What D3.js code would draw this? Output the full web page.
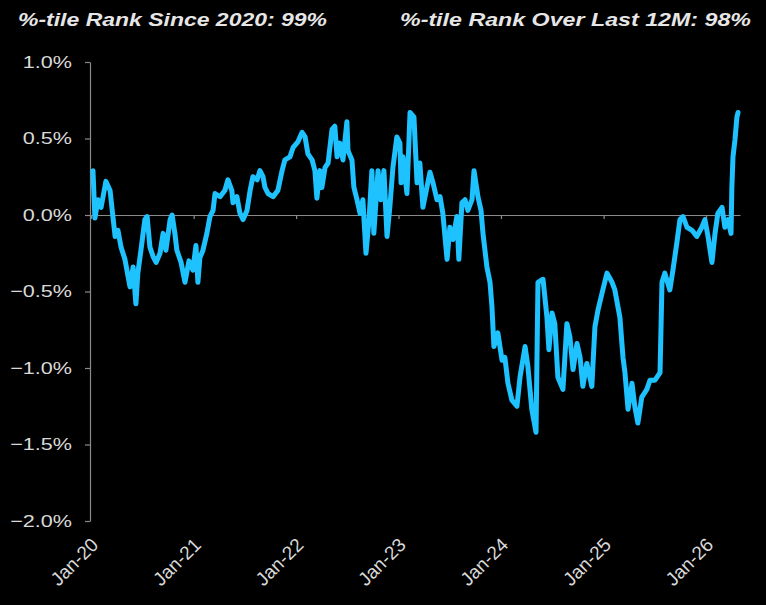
<!DOCTYPE html>
<html>
<head>
<meta charset="utf-8">
<script src="https://cdn.jsdelivr.net/npm/d3@7"></script>
<style>
  html, body { margin: 0; padding: 0; background: #000; }
  svg { display: block; }
</style>
</head>
<body>
<div id="chart"></div>
<script>
// ---- data ----
const titleLeft = "%-tile Rank Since 2020: 99%";
const titleRight = "%-tile Rank Over Last 12M: 98%";

const dates = [
  "2020-01-08","2020-01-15","2020-01-26","2020-02-06","2020-02-23","2020-03-09","2020-03-19","2020-03-27",
  "2020-04-06","2020-04-17","2020-05-01","2020-05-12","2020-05-19","2020-05-30","2020-06-09","2020-06-16",
  "2020-06-27","2020-07-11","2020-07-19","2020-07-29","2020-08-09","2020-08-20","2020-09-03","2020-09-14",
  "2020-09-24","2020-10-09","2020-10-16","2020-10-26","2020-11-02","2020-11-17","2020-12-01","2020-12-15",
  "2020-12-29","2021-01-09","2021-01-16","2021-01-23","2021-02-03","2021-02-17","2021-02-28","2021-03-11",
  "2021-03-18","2021-04-05","2021-04-22","2021-05-03","2021-05-17","2021-05-21","2021-06-04","2021-06-15",
  "2021-06-26","2021-07-10","2021-07-21","2021-07-31","2021-08-15","2021-08-25","2021-09-05","2021-09-12",
  "2021-09-23","2021-10-11","2021-10-28","2021-11-12","2021-11-22","2021-12-10","2021-12-21","2022-01-08",
  "2022-01-22","2022-02-02","2022-02-12","2022-02-27","2022-03-09","2022-03-16","2022-03-27","2022-04-03",
  "2022-04-14","2022-04-25","2022-05-09","2022-05-19","2022-05-27","2022-06-06","2022-06-17","2022-07-01",
  "2022-07-05","2022-07-19","2022-07-26","2022-08-06","2022-08-17","2022-08-27","2022-09-07","2022-09-18",
  "2022-09-28","2022-10-05","2022-10-20","2022-10-30","2022-11-10","2022-11-21","2022-12-01","2022-12-12",
  "2022-12-26","2023-01-06","2023-01-10","2023-01-17","2023-01-31","2023-02-11","2023-02-25","2023-03-08",
  "2023-03-18","2023-03-29","2023-04-12","2023-04-23","2023-05-04","2023-05-18","2023-05-29","2023-06-08",
  "2023-06-23","2023-07-03","2023-07-14","2023-07-28","2023-08-04","2023-08-15","2023-08-26","2023-09-05",
  "2023-09-20","2023-09-27","2023-10-11","2023-10-22","2023-10-29","2023-11-12","2023-11-23","2023-11-30",
  "2023-12-07","2023-12-21","2024-01-05","2024-01-15","2024-01-26","2024-02-09","2024-02-27","2024-03-09",
  "2024-03-27","2024-04-06","2024-04-20","2024-05-05","2024-05-12","2024-05-30","2024-06-13","2024-06-20",
  "2024-07-01","2024-07-11","2024-07-22","2024-08-09","2024-08-23","2024-09-03","2024-09-14","2024-09-28",
  "2024-10-09","2024-10-19","2024-11-02","2024-11-20","2024-12-01","2024-12-12","2024-12-29","2025-01-13",
  "2025-01-31","2025-02-10","2025-02-28","2025-03-11","2025-03-18","2025-03-29","2025-04-12","2025-04-22",
  "2025-05-03","2025-05-17","2025-06-04","2025-06-15","2025-07-03","2025-07-21","2025-07-28","2025-08-07",
  "2025-08-25","2025-09-05","2025-09-19","2025-09-30","2025-10-11","2025-10-25","2025-11-12","2025-11-29",
  "2025-12-17","2025-12-28","2026-01-08","2026-01-22","2026-02-02","2026-02-12","2026-02-27","2026-03-09",
  "2026-03-20","2026-03-31","2026-04-03","2026-04-07","2026-04-14","2026-04-21","2026-04-25"
];

const values = [
  0.29,-0.02,0.10,0.05,0.22,0.16,-0.01,-0.14,
  -0.10,-0.21,-0.29,-0.40,-0.47,-0.34,-0.58,-0.38,
  -0.23,-0.03,-0.01,-0.21,-0.27,-0.31,-0.25,-0.12,
  -0.23,-0.03,0.00,-0.12,-0.23,-0.31,-0.44,-0.30,
  -0.36,-0.20,-0.44,-0.28,-0.23,-0.12,-0.01,0.03,
  0.14,0.12,0.16,0.23,0.16,0.08,0.12,0.01,
  -0.03,0.03,0.16,0.25,0.23,0.29,0.25,0.18,
  0.14,0.12,0.16,0.29,0.36,0.38,0.44,0.48,
  0.54,0.51,0.40,0.36,0.29,0.11,0.29,0.18,
  0.31,0.34,0.56,0.58,0.38,0.47,0.36,0.61,
  0.42,0.36,0.18,0.10,0.01,0.10,-0.25,-0.03,
  0.29,-0.12,0.29,0.10,0.29,-0.14,0.05,0.31,
  0.51,0.47,0.21,0.38,0.14,0.67,0.64,0.21,
  0.34,0.05,0.18,0.28,0.21,0.10,0.12,0.01,
  -0.29,-0.08,-0.16,-0.01,-0.29,0.08,0.10,0.03,
  0.10,0.29,0.12,0.03,-0.12,-0.34,-0.44,-0.60,
  -0.86,-0.77,-0.95,-0.93,-1.10,-1.21,-1.25,-1.06,
  -0.86,-0.99,-1.27,-1.42,-0.44,-0.42,-0.67,-0.88,
  -0.64,-0.71,-1.06,-1.14,-0.71,-0.80,-1.01,-0.84,
  -0.93,-1.12,-0.97,-1.12,-0.73,-0.62,-0.49,-0.38,
  -0.44,-0.49,-0.67,-0.93,-1.03,-1.27,-1.10,-1.25,
  -1.36,-1.19,-1.14,-1.08,-1.08,-1.03,-0.44,-0.38,
  -0.49,-0.36,-0.18,-0.03,-0.01,-0.08,-0.10,-0.14,
  -0.08,-0.03,-0.14,-0.31,-0.12,0.01,0.05,-0.08,
  -0.03,-0.12,0.18,0.38,0.49,0.64,0.67
];

const yTicks = [-2.0, -1.5, -1.0, -0.5, 0.0, 0.5, 1.0];
const xTickDates = ["2020-01-01","2021-01-01","2022-01-01","2023-01-01","2024-01-01","2025-01-01","2026-01-01"];
const xTickLabels = ["Jan-20","Jan-21","Jan-22","Jan-23","Jan-24","Jan-25","Jan-26"];
const xDomain = ["2020-01-01","2026-05-02"];

// ---- chart ----
const W = 766, H = 605;
const parse = d3.timeParse("%Y-%m-%d");
const data = dates.map((d, i) => ({ date: parse(d), value: values[i] }));
const font = "'Liberation Sans', Arial, Helvetica, sans-serif";
const stretch = 1.27;

const svg = d3.select("#chart").append("svg")
  .attr("width", W).attr("height", H)
  .style("background", "#000");

const x = d3.scaleTime().domain(xDomain.map(parse)).range([91, 740]);
const y = d3.scaleLinear().domain([-2, 1]).range([521, 62]);

// titles
svg.append("text").attr("x", 18).attr("y", 26)
  .attr("fill", "#e6e6e6").attr("font-family", font)
  .attr("font-size", 19).attr("font-weight", "bold").attr("font-style", "italic")
  .attr("textLength", 309).attr("lengthAdjust", "spacingAndGlyphs")
  .text(titleLeft);
svg.append("text").attr("x", 400).attr("y", 26)
  .attr("fill", "#e6e6e6").attr("font-family", font)
  .attr("font-size", 19).attr("font-weight", "bold").attr("font-style", "italic")
  .attr("textLength", 351).attr("lengthAdjust", "spacingAndGlyphs")
  .text(titleRight);

// y axis
const yAxis = svg.append("g").attr("transform", "translate(90,0)")
  .call(d3.axisLeft(y).tickValues(yTicks)
    .tickFormat(d => d3.format(".1f")(d) + "%")
    .tickSize(5).tickSizeOuter(0).tickPadding(13));
yAxis.select(".domain").attr("stroke", "#8a8a8a").attr("stroke-width", 1.2);
yAxis.selectAll(".tick line").attr("stroke", "#8a8a8a").attr("stroke-width", 1.2);
yAxis.selectAll(".tick text").attr("fill", "#d9d9d9")
  .attr("font-family", font).attr("font-size", 17)
  .attr("x", -18 / stretch)
  .attr("transform", `scale(${stretch},1)`);

// zero line with year ticks
const zAxis = svg.append("g").attr("transform", `translate(0,${y(0)})`)
  .call(d3.axisBottom(x).tickValues(xTickDates.map(parse))
    .tickFormat("").tickSize(4).tickSizeOuter(0));
zAxis.select(".domain").attr("stroke", "#8a8a8a").attr("stroke-width", 1.2);
zAxis.selectAll(".tick line").attr("stroke", "#8a8a8a").attr("stroke-width", 1.2);

// x labels at bottom
const xLab = svg.append("g").attr("transform", "translate(0,521)")
  .call(d3.axisBottom(x).tickValues(xTickDates.map(parse))
    .tickFormat((d, i) => xTickLabels[i]).tickSize(0));
xLab.select(".domain").remove();
xLab.selectAll(".tick text")
  .attr("fill", "#d9d9d9").attr("font-family", font).attr("font-size", 19)
  .attr("text-anchor", "end")
  .attr("dy", null).attr("y", null)
  .attr("transform", "translate(8,25) rotate(-45)");

// line
const line = d3.line().x(d => x(d.date)).y(d => y(d.value));
svg.append("path").datum(data)
  .attr("d", line)
  .attr("fill", "none")
  .attr("stroke", "#1ec2ff")
  .attr("stroke-width", 5)
  .attr("stroke-linejoin", "round")
  .attr("stroke-linecap", "round");
</script>
</body>
</html>
